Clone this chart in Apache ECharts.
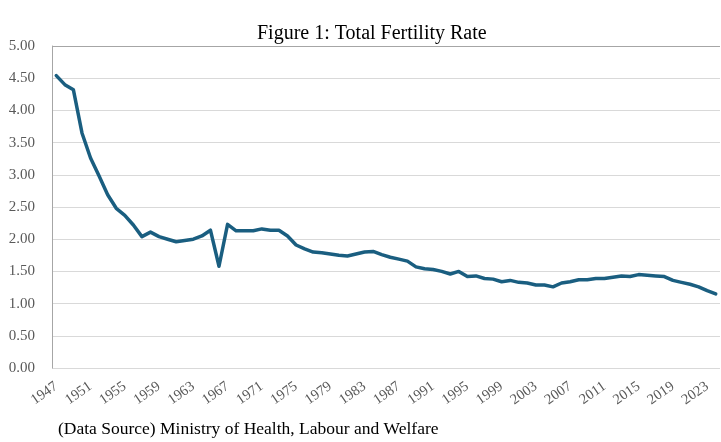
<!DOCTYPE html>
<html lang="en">
  <head>
    <meta charset="utf-8">
    <title>Total Fertility Rate</title>
    <script src="https://cdn.jsdelivr.net/npm/echarts@6/dist/echarts.min.js"></script>
    <style>
      html, body { margin: 0; padding: 0; background: #fff; }
      #chart { width: 721px; height: 442px; }
    </style>
  </head>
  <body>
    <div id="chart"></div>
    <script>
      // years 1947 - 2024
      var years = [];
      for (var y = 1947; y <= 2024; y++) years.push(String(y));

      // total fertility rate
      var tfr = [
        4.54, 4.40, 4.32, 3.65, 3.26, 2.98, 2.69, 2.48, 2.37, 2.22,
        2.04, 2.11, 2.04, 2.00, 1.96, 1.98, 2.00, 2.05, 2.14, 1.58,
        2.23, 2.13, 2.13, 2.13, 2.16, 2.14, 2.14, 2.05, 1.91, 1.85,
        1.80, 1.79, 1.77, 1.75, 1.74, 1.77, 1.80, 1.81, 1.76, 1.72,
        1.69, 1.66, 1.57, 1.54, 1.53, 1.50, 1.46, 1.50, 1.42, 1.43,
        1.39, 1.38, 1.34, 1.36, 1.33, 1.32, 1.29, 1.29, 1.26, 1.32,
        1.34, 1.37, 1.37, 1.39, 1.39, 1.41, 1.43, 1.42, 1.45, 1.44,
        1.43, 1.42, 1.36, 1.33, 1.30, 1.26, 1.20, 1.15
      ];

      var titleText = 'Figure 1: Total Fertility Rate';
      var sourceText = '(Data Source) Ministry of Health, Labour and Welfare';

      var serif = '"Liberation Serif", "Times New Roman", serif';

      var chart = echarts.init(document.getElementById('chart'));
      chart.setOption({
        animation: false,
        title: {
          text: titleText,
          left: 257,
          top: 24,
          padding: 0,
          textStyle: { fontFamily: serif, fontSize: 20, fontWeight: 'normal', color: '#000' }
        },
        graphic: [{
          type: 'text',
          left: 58,
          top: 420,
          style: { text: sourceText, font: '17.5px ' + serif, fill: '#000' }
        }],
        grid: { left: 52, right: 1, top: 46, bottom: 74 },
        xAxis: {
          type: 'category',
          data: years,
          boundaryGap: true,
          axisLine: { show: false },
          axisTick: { show: false },
          axisLabel: {
            interval: 3,
            rotate: 35,
            margin: 17,
            fontFamily: serif,
            fontSize: 14.5,
            color: '#595959'
          }
        },
        yAxis: {
          type: 'value',
          min: 0,
          max: 5,
          interval: 0.5,
          axisLine: { show: true, lineStyle: { color: '#a6a6a6', width: 1 } },
          axisTick: { show: false },
          axisLabel: {
            formatter: function (v) { return v.toFixed(2); },
            margin: 17,
            fontFamily: serif,
            fontSize: 15,
            color: '#595959'
          },
          splitLine: {
            lineStyle: {
              color: ['#d9d9d9', '#d9d9d9', '#d9d9d9', '#d9d9d9', '#d9d9d9', '#d9d9d9',
                      '#d9d9d9', '#d9d9d9', '#d9d9d9', '#d9d9d9', '#a6a6a6'],
              width: 1
            }
          }
        },
        series: [{
          type: 'line',
          data: tfr,
          showSymbol: false,
          lineStyle: { color: '#1a5e80', width: 3.5, join: 'round', cap: 'round' }
        }]
      });
    </script>
  </body>
</html>
